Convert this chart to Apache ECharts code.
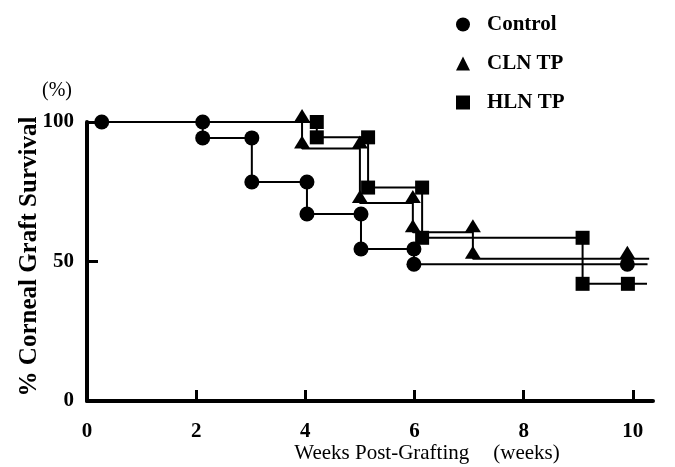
<!DOCTYPE html>
<html>
<head>
<meta charset="utf-8">
<script src="https://cdn.jsdelivr.net/npm/echarts@6/dist/echarts.min.js"></script>
<style>
  html, body { margin: 0; padding: 0; background: #fff; }
  #chart { width: 675px; height: 467px; }
</style>
</head>
<body>
<div id="chart"></div>
<script>
// survival curves (weeks, % surviving)
var controlWeeks = [0.27, 2.12, 2.12, 3.02, 3.02, 4.03, 4.03, 5.02, 5.02, 5.99, 5.99, 9.9, 10.27];
var controlSurv  = [100, 100, 94.3, 94.3, 78.5, 78.5, 67, 67, 54.5, 54.5, 49, 49, 49];

var clnWeeks = [0.27, 3.94, 3.94, 5.0, 5.0, 5.97, 5.97, 7.07, 7.07, 9.9, 10.3];
var clnSurv  = [100, 100, 90.5, 90.5, 71, 71, 60.5, 60.5, 51, 51, 51];

var hlnWeeks = [0.27, 4.21, 4.21, 5.15, 5.15, 6.14, 6.14, 9.08, 9.08, 9.91, 10.26];
var hlnSurv  = [100, 100, 94.5, 94.5, 76.5, 76.5, 58.5, 58.5, 42, 42, 42];

var xTicks = [2, 4, 6, 8, 10];
var xLabels = [0, 2, 4, 6, 8, 10];

var serif = '"Liberation Serif", "DejaVu Serif", serif';

// points with no marker: start of overlapping curves and line ends
function build(weeks, surv, skipFirst) {
  var last = weeks.length - 1;
  return weeks.map(function (w, i) {
    var item = { value: [w, surv[i]] };
    if (i === last || (skipFirst && i === 0)) item.symbol = 'none';
    return item;
  });
}

function draw_survival() {
  var dom = document.getElementById('chart');
  var myChart = echarts.init(dom, null, { renderer: 'canvas' });

  var option = {
    animation: false,
    backgroundColor: '#fff',
    grid: { left: 87, right: 22, top: 122, bottom: 66, outerBoundsMode: 'none' },
    legend: {
      orient: 'vertical',
      left: 451,
      top: 9,
      itemWidth: 14,
      itemHeight: 14,
      itemGap: 18,
      selectedMode: false,
      textStyle: {
        fontFamily: serif, fontWeight: 'bold', fontSize: 21, color: '#000',
        padding: [0, 0, 0, 12]
      },
      data: [
        { name: 'Control', icon: 'circle' },
        { name: 'CLN TP', icon: 'triangle' },
        { name: 'HLN TP', icon: 'rect' }
      ]
    },
    graphic: [
      {
        type: 'text', left: 42, top: 81,
        style: { text: '(%)', font: '20px ' + serif, fill: '#000' }
      }
    ],
    xAxis: {
      type: 'value',
      min: 0,
      max: 10.37,
      interval: 2,
      splitLine: { show: false },
      axisLine: { lineStyle: { color: '#000', width: 4 } },
      axisTick: { inside: true, length: 11, customValues: xTicks, lineStyle: { color: '#000', width: 3 } },
      axisLabel: {
        customValues: xLabels, margin: 20,
        fontFamily: serif, fontWeight: 'bold', fontSize: 21, color: '#000'
      },
      name: '{a|Weeks Post-Grafting}{b|(weeks)}',
      nameLocation: 'middle',
      nameGap: 42,
      nameMoveOverlap: false,
      nameTextStyle: {
        padding: [0, 0, 0, 114],
        rich: {
          a: { fontFamily: serif, fontSize: 21, color: '#000', padding: [0, 24, 0, 0] },
          b: { fontFamily: serif, fontSize: 21, color: '#000' }
        }
      }
    },
    yAxis: {
      type: 'value',
      min: 0,
      max: 100,
      interval: 50,
      splitLine: { show: false },
      axisLine: { lineStyle: { color: '#000', width: 4 } },
      axisTick: { inside: true, length: 11, lineStyle: { color: '#000', width: 3 } },
      axisLabel: {
        margin: 13,
        fontFamily: serif, fontWeight: 'bold', fontSize: 21, color: '#000'
      },
      name: '% Corneal Graft Survival',
      nameLocation: 'middle',
      nameGap: 45,
      nameMoveOverlap: false,
      nameTextStyle: {
        fontFamily: serif, fontWeight: 'bold', fontSize: 25, color: '#000',
        padding: [0, 0, 0, 10]
      }
    },
    series: [
      {
        name: 'Control',
        type: 'line',
        data: build(controlWeeks, controlSurv, false),
        symbol: 'circle',
        symbolSize: 15,
        showAllSymbol: true,
        itemStyle: { color: '#000' },
        lineStyle: { color: '#000', width: 2 }
      },
      {
        name: 'CLN TP',
        type: 'line',
        data: build(clnWeeks, clnSurv, true),
        symbol: 'triangle',
        symbolSize: [16, 13],
        symbolOffset: [0, '-50%'],
        showAllSymbol: true,
        itemStyle: { color: '#000' },
        lineStyle: { color: '#000', width: 2 }
      },
      {
        name: 'HLN TP',
        type: 'line',
        data: build(hlnWeeks, hlnSurv, true),
        symbol: 'rect',
        symbolSize: 14,
        showAllSymbol: true,
        itemStyle: { color: '#000' },
        lineStyle: { color: '#000', width: 2 }
      }
    ]
  };

  myChart.setOption(option);
  window.onresize = myChart.resize;
}

draw_survival();
</script>
</body>
</html>
